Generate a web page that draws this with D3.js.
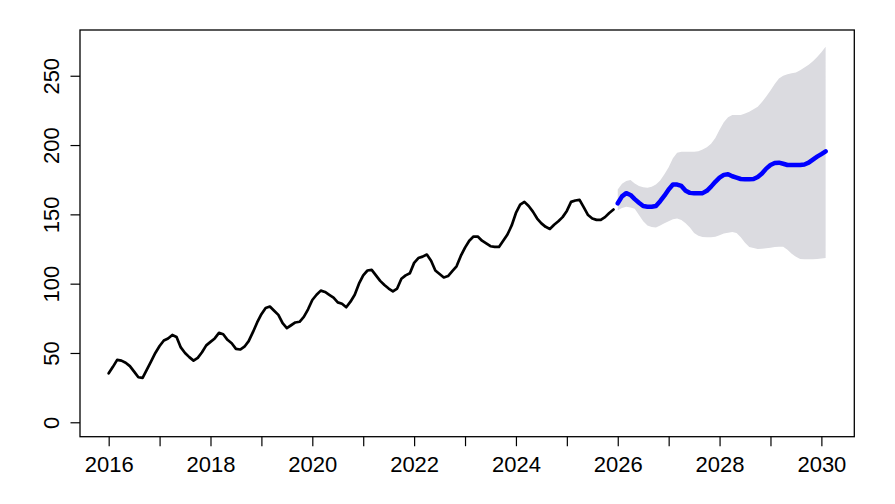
<!DOCTYPE html>
<html>
<head>
<meta charset="utf-8">
<script src="https://cdn.jsdelivr.net/npm/d3@7"></script>
<style>
  html, body { margin: 0; padding: 0; background: #fff; }
  svg text { font-family: "Liberation Sans", Arial, sans-serif; }
</style>
</head>
<body>
<svg id="chart" width="895" height="504"></svg>
<script>
// ---- data (monthly) ----
const historyStart = 2016;   // Jan 2016
const historyValues = [
  35.3, 40, 45, 44.5, 43, 40.5, 36.5, 32.5, 32, 38, 44, 50,
  55, 59, 60.5, 63, 61.5, 54, 50, 47, 44.5, 46.5, 50.5, 55.5,
  58, 60.5, 64.5, 63.5, 59.5, 57, 53, 52.5, 54.5, 58.5, 65, 72,
  78, 82.5, 83.5, 80.5, 77.5, 71.5, 68, 70, 72, 72.5, 76, 81.5,
  88.2, 92, 95, 94, 92, 90, 86.5, 85.5, 83, 87, 92, 100,
  106, 109.5, 110, 106, 102, 99, 96.5, 94.5, 96.5, 103.5, 106, 107.5,
  115, 118.5, 119.5, 121, 116.5, 109.5, 107, 104.5, 105.5, 109, 112.5, 120,
  126, 131, 134, 134, 131, 129, 127, 126.5, 126.5, 131, 135.5, 142,
  151, 157, 159, 156, 152, 147, 143.5, 141, 139.5, 142.5, 145, 148,
  152.5, 159, 160, 160.5, 155, 149.5, 147, 146, 146, 148, 151, 153.5
];
const forecastStart = 2026;  // Jan 2026
const forecastMean = [
  158, 163, 165.3, 164, 161, 158.4, 156, 155.5, 155.5, 156, 159.5, 163.5,
  168, 171.5, 171.5, 170.5, 167, 165.5, 165.2, 165.2, 165.3, 167, 170, 173.5,
  176.5, 178.5, 179, 177.5, 176.5, 175.5, 175.3, 175.3, 175.5, 177, 179.5, 183,
  185.6, 187, 187.3, 186.5, 185.6, 185.6, 185.6, 185.6, 186, 187.3, 189.5, 191.6,
  193.5, 195.5
];
const forecastUpper = [
  168, 172, 174, 174.8, 172.2, 170.5, 169.5, 169.2, 170, 171.5, 174.5, 179,
  184, 190.5, 194.5, 195.2, 195.2, 195.2, 195.2, 195.5, 196.8, 198.5, 201, 205,
  211, 216.5, 220, 221.6, 221.6, 221.6, 222.8, 224, 225.8, 227.6, 231, 235,
  239.3, 244, 248, 250, 251, 251.8, 252.4, 254, 256, 258, 260.5, 263.5,
  267, 271
];
const forecastLower = [
  153, 154.5, 155.5, 155, 154, 149.5, 145, 142, 140.8, 140.6, 142, 143.5,
  145, 146.5, 147, 146, 143.5, 140.5, 136.5, 134.5, 133.6, 133.4, 133.4, 133.8,
  135, 136.2, 136.8, 137.3, 136.5, 133.5, 129.5, 126.5, 125.7, 125, 125.2, 125.5,
  126, 126.5, 126.7, 126.7, 124.5, 121.5, 119.5, 117.8, 117.6, 117.6, 117.6, 117.8,
  118.2, 118.6
];
const xTicks = [2016, 2017, 2018, 2019, 2020, 2021, 2022, 2023, 2024, 2025, 2026, 2027, 2028, 2029, 2030];
const xTickLabels = ["2016", "", "2018", "", "2020", "", "2022", "", "2024", "", "2026", "", "2028", "", "2030"];
const yTicks = [0, 50, 100, 150, 200, 250];

// ---- build tables ----
const hist = historyValues.map((v, i) => ({ t: historyStart + i / 12, v }));
const fc = forecastMean.map((v, i) => ({
  t: forecastStart + i / 12, v, hi: forecastUpper[i], lo: forecastLower[i]
}));

// ---- scales (R style 4% extension) ----
const tMin = historyStart, tMax = fc[fc.length - 1].t;
const ext = (tMax - tMin) * 0.04;
const L = 80, R = 854.3, T = 30, B = 436.7;
const x = d3.scaleLinear().domain([tMin - ext, tMax + ext]).range([L, R]);
const y = d3.scaleLinear().domain([-10.4, 283.0]).range([B, T]);

const svg = d3.select("#chart");

// band
svg.append("path")
  .datum(fc)
  .attr("fill", "#dbdbe0")
  .attr("stroke", "none")
  .attr("d", d3.area().x(d => x(d.t)).y0(d => y(d.lo)).y1(d => y(d.hi)));

// history line
svg.append("path")
  .datum(hist)
  .attr("fill", "none")
  .attr("stroke", "#000")
  .attr("stroke-width", 2.7)
  .attr("stroke-linejoin", "round")
  .attr("stroke-linecap", "round")
  .attr("d", d3.line().x(d => x(d.t)).y(d => y(d.v)));

// forecast mean
svg.append("path")
  .datum(fc)
  .attr("fill", "none")
  .attr("stroke", "#0000ff")
  .attr("stroke-width", 4.5)
  .attr("stroke-linejoin", "round")
  .attr("stroke-linecap", "round")
  .attr("d", d3.line().x(d => x(d.t)).y(d => y(d.v)));

// box
svg.append("rect")
  .attr("x", L).attr("y", T)
  .attr("width", R - L).attr("height", B - T)
  .attr("fill", "none").attr("stroke", "#000").attr("stroke-width", 1.3);

// x axis
const xAxis = d3.axisBottom(x)
  .tickValues(xTicks)
  .tickSize(9.5)
  .tickPadding(6)
  .tickFormat((d, i) => xTickLabels[i]);
const gx = svg.append("g").attr("transform", `translate(0,${B})`).call(xAxis);
gx.select(".domain").remove();
gx.selectAll(".tick line").attr("stroke", "#000").attr("stroke-width", 1.2);
gx.selectAll(".tick text")
  .attr("fill", "#000")
  .style("font-size", "22px")
  .attr("y", null).attr("dy", null)
  .attr("transform", null)
  .attr("y", 471.7 - B);

// y axis
const yAxis = d3.axisLeft(y).tickValues(yTicks).tickSize(9.5).tickFormat(d3.format("d"));
const gy = svg.append("g").attr("transform", `translate(${L},0)`).call(yAxis);
gy.select(".domain").remove();
gy.selectAll(".tick line").attr("stroke", "#000").attr("stroke-width", 1.2);
gy.selectAll(".tick text")
  .attr("fill", "#000")
  .style("font-size", "22px")
  .attr("x", null).attr("dy", null)
  .attr("text-anchor", "middle")
  .attr("transform", "translate(-21,0) rotate(-90)")
  .attr("x", 0).attr("y", 0);
</script>
</body>
</html>
